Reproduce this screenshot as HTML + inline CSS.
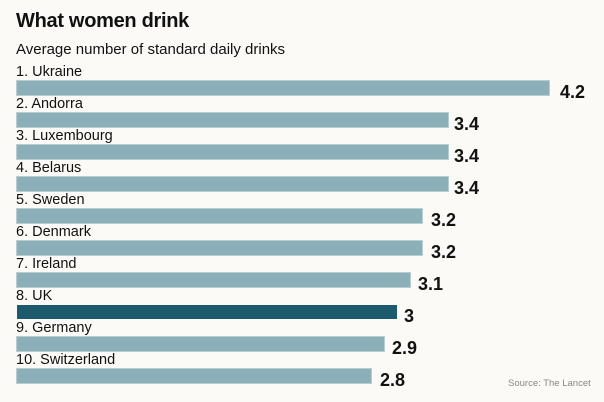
<!DOCTYPE html><html><head><style>
body{margin:0;width:604px;height:402px;background:#fbfaf6;font-family:"Liberation Sans",sans-serif;position:relative;overflow:hidden;color:#111}
.t{position:absolute;left:16px;top:10px;font-size:20px;font-weight:bold;letter-spacing:-0.3px}
.s{position:absolute;left:16px;top:41px;font-size:15px}
.l{position:absolute;left:16px;font-size:14.5px;line-height:16px;margin-top:1px}
.b{position:absolute;left:17px;height:14px;background:#8cb0b9;box-shadow:0 0 0 1px #b5cdd3}
.v{position:absolute;font-size:18px;font-weight:bold;line-height:16px;margin-top:3px}
.src{position:absolute;left:508px;top:378px;font-size:9.5px;color:#888}
</style></head><body>
<div class="t">What women drink</div>
<div class="s">Average number of standard daily drinks</div>
<div class="l" style="top:63px">1. Ukraine</div><div class="b" style="top:81px;width:532px"></div><div class="v" style="top:81px;left:560px">4.2</div>
<div class="l" style="top:95px">2. Andorra</div><div class="b" style="top:113px;width:431px"></div><div class="v" style="top:113px;left:454px">3.4</div>
<div class="l" style="top:127px">3. Luxembourg</div><div class="b" style="top:145px;width:431px"></div><div class="v" style="top:145px;left:454px">3.4</div>
<div class="l" style="top:159px">4. Belarus</div><div class="b" style="top:177px;width:431px"></div><div class="v" style="top:177px;left:454px">3.4</div>
<div class="l" style="top:191px">5. Sweden</div><div class="b" style="top:209px;width:405px"></div><div class="v" style="top:209px;left:431px">3.2</div>
<div class="l" style="top:223px">6. Denmark</div><div class="b" style="top:241px;width:405px"></div><div class="v" style="top:241px;left:431px">3.2</div>
<div class="l" style="top:255px">7. Ireland</div><div class="b" style="top:273px;width:393px"></div><div class="v" style="top:273px;left:418px">3.1</div>
<div class="l" style="top:287px">8. UK</div><div class="b" style="top:305px;width:380px;background:#1d5b6c;box-shadow:none"></div><div class="v" style="top:305px;left:404px">3</div>
<div class="l" style="top:319px">9. Germany</div><div class="b" style="top:337px;width:367px"></div><div class="v" style="top:337px;left:392px">2.9</div>
<div class="l" style="top:351px">10. Switzerland</div><div class="b" style="top:369px;width:354px"></div><div class="v" style="top:369px;left:380px">2.8</div>
<div class="src">Source: The Lancet</div>
</body></html>
